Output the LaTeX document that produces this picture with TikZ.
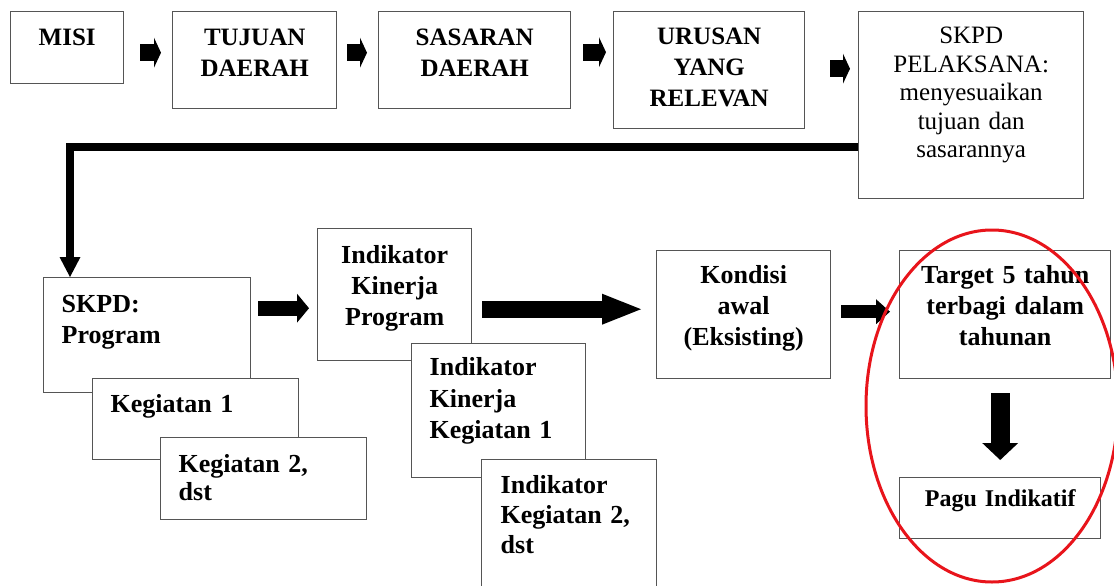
\documentclass[tikz,border=0pt]{standalone}
\usepackage{fontspec}
\setmainfont{Liberation Serif}
\usepackage{tikz}
\usetikzlibrary{arrows.meta}
\tikzset{
  blockarrow/.style n args={3}{line width=#1, draw=black,
    -{Triangle[length=#2,width=#3,line width=0pt]}},
  feedline/.style={line width=7.5pt, line join=miter,
    -{Triangle[length=20pt,width=21pt,line width=0pt]}}
}
\definecolor{RingRed}{HTML}{E8141B}
\definecolor{CellLine}{HTML}{555555}

\begin{document}
\begin{tikzpicture}[x=1pt, y=-1pt,
  cell/.style={draw=CellLine, line width=1.4pt, fill=white, anchor=north west,
    inner xsep=0pt, inner ysep=0pt, align=center,
    font=\bfseries\fontsize{25}{31}\selectfont},
  lowcell/.style={cell, font=\bfseries\fontsize{26}{31}\selectfont},
  leftcell/.style={lowcell, align=left, inner xsep=18pt}
]
\useasboundingbox (0,0) rectangle (1114,586);
\clip (0,0) rectangle (1114,586);
\fill[white] (0,0) rectangle (1114,586);

% top row
\node[cell, text width=113pt, text height=34pt, text depth=38pt] (misi) at (10,11) {MISI};
\node[cell, text width=164pt, text height=34pt, text depth=63pt] (tujuan) at (172,11) {TUJUAN\\DAERAH};
\node[cell, text width=192pt, text height=34pt, text depth=63pt] (sasaran) at (378,11) {SASARAN\\DAERAH};
\node[cell, text width=191pt, text height=33pt, text depth=84pt] (urusan) at (613,11) {URUSAN\\YANG\\RELEVAN};
\node[cell, text width=225pt, text height=32pt, text depth=155pt, font=\fontsize{25}{28.5}\selectfont] (skpdp) at (858,11)
  {SKPD\\PELAKSANA:\\menyesuaikan\\tujuan dan\\sasarannya};

\draw[blockarrow={17pt}{7pt}{30pt}, shorten <=16pt, shorten >=11pt]
  ([yshift=-5pt]misi.east) -- ([yshift=-5pt]misi.east -| tujuan.west);
\draw[blockarrow={17pt}{7pt}{30pt}, shorten <=10pt, shorten >=11pt]
  ([yshift=7.5pt]tujuan.east) -- ([yshift=7.5pt]tujuan.east -| sasaran.west);
\draw[blockarrow={17pt}{7pt}{30pt}, shorten <=12pt, shorten >=7pt]
  ([yshift=8pt]sasaran.east) -- ([yshift=8pt]sasaran.east -| urusan.west);
\draw[blockarrow={17pt}{7pt}{30pt}, shorten <=25pt, shorten >=8pt]
  ([yshift=1.5pt]urusan.east) -- ([yshift=1.5pt]urusan.east -| skpdp.west);

% program and kegiatan stacks
\node[leftcell, text width=171pt, text height=35pt, text depth=80pt] (program) at (43,277) {SKPD:\\Program};
\node[leftcell, text width=170pt, text height=34pt, text depth=47pt] (keg1) at (92,378) {Kegiatan 1};
\node[leftcell, text width=170pt, text height=35pt, text depth=47pt, font=\bfseries\fontsize{26}{28}\selectfont] (keg2) at (160,437) {Kegiatan 2,\\dst};

\node[lowcell, text width=154pt, text height=35pt, text depth=97pt] (ikp) at (317,228) {Indikator\\Kinerja\\Program};
\node[leftcell, text width=138pt, text height=32pt, text depth=102pt, font=\bfseries\fontsize{26}{31.5}\selectfont] (ikk1) at (411,343) {Indikator\\Kinerja\\Kegiatan 1};
\node[leftcell, text width=137pt, text height=34pt, text depth=126pt, inner xsep=19pt, font=\bfseries\fontsize{26}{30}\selectfont] (ik2) at (481,459) {Indikator\\Kegiatan 2,\\dst};

\node[lowcell, text width=174pt, text height=33pt, text depth=95pt] (kondisi) at (656,250) {Kondisi\\awal\\(Eksisting)};
\node[lowcell, text width=211pt, text height=33pt, text depth=95pt] (target) at (899,250) {Target 5 tahun\\terbagi dalam\\tahunan};
\node[cell, text width=201pt, text height=29pt, text depth=32pt, font=\bfseries\fontsize{24}{30}\selectfont] (pagu) at (899,477) {Pagu Indikatif};

% feedback from SKPD pelaksana down to the program box
\draw[feedline] ([yshift=-42pt]skpdp.west) -| ([xshift=27pt]program.north west);

\draw[blockarrow={15pt}{12pt}{29pt}, shorten <=7pt, shorten >=8pt]
  ([yshift=27pt]program.east) -- ([yshift=27pt]program.east -| ikp.west);
\draw[blockarrow={17pt}{39pt}{31pt}, shorten <=10pt, shorten >=15pt]
  ([yshift=-14.5pt]ikp.east) -- ([yshift=-14.5pt]ikp.east -| kondisi.west);
\draw[blockarrow={13pt}{14pt}{25pt}, shorten <=10pt, shorten >=9pt]
  ([yshift=3pt]kondisi.east) -- ([yshift=3pt]kondisi.east -| target.west);
\draw[blockarrow={19pt}{17pt}{36pt}, shorten <=14pt, shorten >=17pt]
  ([xshift=-5pt]target.south) -- (pagu.north);

\draw[RingRed, line width=3pt] (992,406) ellipse [x radius=126, y radius=176];
\end{tikzpicture}
\end{document}
